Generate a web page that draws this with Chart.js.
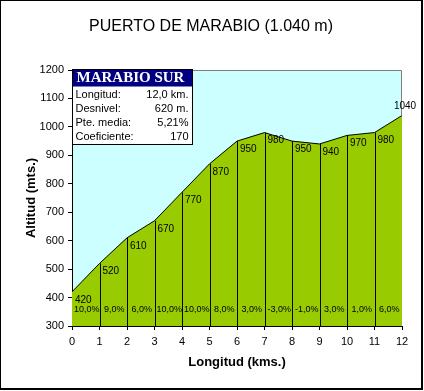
<!DOCTYPE html>
<html>
<head>
<meta charset="utf-8">
<script src="https://cdn.jsdelivr.net/npm/chart.js@4"></script>
<style>
  html, body { margin: 0; padding: 0; background: #fff; }
  canvas { display: block; }
</style>
</head>
<body>
<canvas id="perfil" width="424" height="391"></canvas>
<script>
// Perfil del Puerto de Marabio (vertiente sur)

const KM = [0, 1, 2, 3, 4, 5, 6, 7, 8, 9, 10, 11, 12];
const ALTITUD = [420, 520, 610, 670, 770, 870, 950, 980, 950, 940, 970, 980, 1040];
const PENDIENTE = ['10,0%', '9,0%', '6,0%', '10,0%', '10,0%', '8,0%', '3,0%', '-3,0%', '-1,0%', '3,0%', '1,0%', '6,0%'];
const Y_TICKS = [300, 400, 500, 600, 700, 800, 900, 1000, 1100, 1200];

const TITULO = 'PUERTO DE MARABIO (1.040 m)';
const FICHA_NOMBRE = 'MARABIO SUR';
const FICHA_ETIQUETAS = ['Longitud:', 'Desnivel:', 'Pte. media:', 'Coeficiente:'];
const FICHA_VALORES = ['12,0 km.', '620 m.', '5,21%', '170'];

const SANS = '"Liberation Sans", Arial, sans-serif';
Chart.defaults.font.family = SANS;
Chart.defaults.color = '#000';

// Fondo, cielo, lineas de km, etiquetas y ficha
const perfilPlugin = {
  id: 'perfil',
  beforeDraw(chart) {
    const { ctx, chartArea: a } = chart;
    ctx.save();
    ctx.fillStyle = '#fff';
    ctx.fillRect(0, 0, chart.width, chart.height);
    ctx.fillStyle = '#ccffff';
    ctx.fillRect(a.left, a.top, a.right - a.left, a.bottom - a.top);
    ctx.restore();
  },
  afterDatasetsDraw(chart) {
    const { ctx, chartArea: a } = chart;
    const xs = chart.scales.x, ys = chart.scales.y;
    ctx.save();

    // lineas verticales en cada km
    ctx.strokeStyle = '#000';
    ctx.lineWidth = 1;
    ctx.beginPath();
    for (let i = 1; i < KM.length - 1; i++) {
      const x = Math.round(xs.getPixelForValue(KM[i])) + 0.5;
      ctx.moveTo(x, ys.getPixelForValue(ALTITUD[i]));
      ctx.lineTo(x, a.bottom);
    }
    ctx.stroke();

    // borde gris superior y derecho
    ctx.strokeStyle = '#808080';
    ctx.beginPath();
    ctx.moveTo(a.left, a.top + 0.5);
    ctx.lineTo(a.right - 0.5, a.top + 0.5);
    ctx.lineTo(a.right - 0.5, ys.getPixelForValue(ALTITUD[ALTITUD.length - 1]));
    ctx.stroke();

    // altitudes
    ctx.fillStyle = '#000';
    ctx.font = '10px ' + SANS;
    for (let i = 0; i < KM.length; i++) {
      const x = xs.getPixelForValue(KM[i]);
      const y = ys.getPixelForValue(ALTITUD[i]);
      if (i === KM.length - 1) {
        ctx.textAlign = 'center';
        ctx.textBaseline = 'bottom';
        ctx.fillText(String(ALTITUD[i]), x + 3, y - 4);
      } else {
        ctx.textAlign = 'left';
        ctx.textBaseline = 'top';
        ctx.fillText(String(ALTITUD[i]), x + 3, y + 3);
      }
    }

    // pendientes por tramo
    ctx.font = '9px ' + SANS;
    ctx.textAlign = 'center';
    ctx.textBaseline = 'middle';
    for (let i = 0; i < PENDIENTE.length; i++) {
      const x = xs.getPixelForValue((KM[i] + KM[i + 1]) / 2);
      ctx.fillText(PENDIENTE[i], x + 1, a.bottom - 16);
    }

    // ficha
    const bx = a.left + 0.5, by = a.top - 0.5, bw = 120, bh = 75;
    ctx.fillStyle = '#fff';
    ctx.fillRect(bx, by, bw, bh);
    ctx.fillStyle = '#000080';
    ctx.fillRect(bx, by, bw, 17);
    ctx.strokeStyle = '#000';
    ctx.strokeRect(bx, by, bw, bh);
    ctx.fillStyle = '#fff';
    ctx.font = 'bold 15px "Liberation Serif", "Times New Roman", serif';
    ctx.textAlign = 'left';
    ctx.textBaseline = 'middle';
    ctx.fillText(FICHA_NOMBRE, bx + 4, by + 9);
    ctx.fillStyle = '#000';
    ctx.font = '11px ' + SANS;
    for (let i = 0; i < FICHA_ETIQUETAS.length; i++) {
      const y = by + 25 + i * 14.3;
      ctx.textAlign = 'left';
      ctx.fillText(FICHA_ETIQUETAS[i], bx + 3, y);
      ctx.textAlign = 'right';
      ctx.fillText(FICHA_VALORES[i], bx + bw - 4, y);
    }
    ctx.restore();
  },
  afterDraw(chart) {
    const { ctx, chartArea: a } = chart;
    ctx.save();
    ctx.fillStyle = '#000';
    ctx.textAlign = 'center';
    ctx.textBaseline = 'middle';
    ctx.font = '16px ' + SANS;
    ctx.fillText(TITULO, 211, 27);

    ctx.font = 'bold 13px ' + SANS;
    ctx.fillText('Longitud (kms.)', (a.left + a.right) / 2, 362);
    ctx.translate(31, (a.top + a.bottom) / 2);
    ctx.rotate(-Math.PI / 2);
    ctx.fillText('Altitud (mts.)', 0, 0);
    ctx.restore();

    // marco exterior
    ctx.save();
    ctx.fillStyle = '#000';
    ctx.fillRect(0, 0, 423, 1);
    ctx.fillRect(0, 0, 1, 390);
    ctx.fillRect(421, 0, 2, 390);
    ctx.fillRect(0, 388, 423, 2);
    ctx.restore();
  }
};

new Chart(document.getElementById('perfil'), {
  type: 'line',
  data: {
    datasets: [{
      data: KM.map((k, i) => ({ x: k, y: ALTITUD[i] })),
      borderColor: '#000',
      borderWidth: 1,
      backgroundColor: '#99cc00',
      fill: 'start',
      pointRadius: 0,
      tension: 0
    }]
  },
  options: {
    responsive: false,
    animation: false,
    events: [],
    layout: { padding: { top: 70, right: 22, bottom: 45, left: 0 } },
    plugins: {
      legend: { display: false },
      tooltip: { enabled: false }
    },
    scales: {
      x: {
        type: 'linear',
        min: 0,
        max: 12,
        afterBuildTicks: s => { s.ticks = KM.map(v => ({ value: v })); },
        afterFit: s => { s.height = 20; },
        ticks: { font: { size: 11 }, padding: 5, maxRotation: 0, autoSkip: false, callback: v => String(v) },
        grid: { drawOnChartArea: false, tickLength: 4, color: '#000' },
        border: { color: '#000', width: 1 }
      },
      y: {
        type: 'linear',
        min: 300,
        max: 1200,
        afterBuildTicks: s => { s.ticks = Y_TICKS.map(v => ({ value: v })); },
        afterFit: s => { s.width = 72; },
        ticks: { font: { size: 11 }, padding: 4, autoSkip: false, callback: v => String(v) },
        grid: { drawOnChartArea: false, tickLength: 4, color: '#000' },
        border: { color: '#000', width: 1 }
      }
    }
  },
  plugins: [perfilPlugin]
});
</script>
</body>
</html>
